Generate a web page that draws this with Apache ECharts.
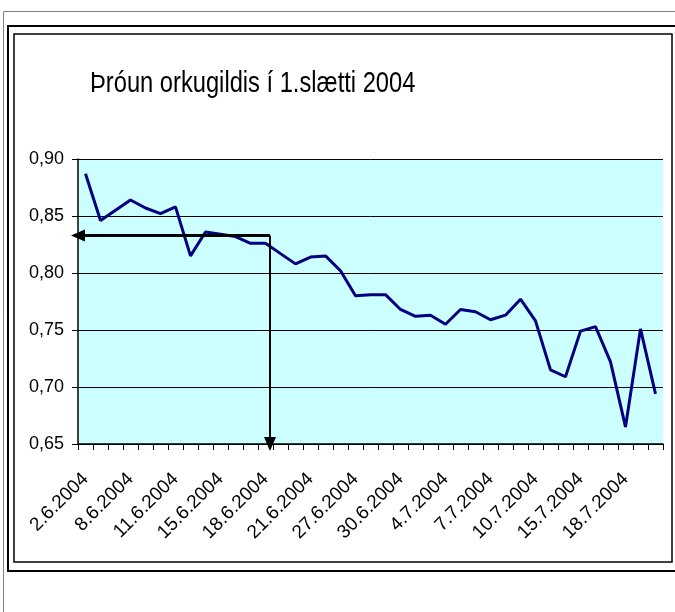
<!DOCTYPE html>
<html>
<head>
<meta charset="utf-8">
<script src="https://cdn.jsdelivr.net/npm/echarts@6/dist/echarts.min.js"></script>
<style>
html,body{margin:0;padding:0;background:#fff;}
#c{width:675px;height:612px;}
</style>
</head>
<body>
<div id="c"></div>
<script>
const titleText = 'Þróun orkugildis í 1.slætti 2004';
const categories = ['2.6.2004','4.6.2004','7.6.2004','8.6.2004','9.6.2004','10.6.2004','11.6.2004','13.6.2004','14.6.2004','15.6.2004','16.6.2004','17.6.2004','18.6.2004','19.6.2004','20.6.2004','21.6.2004','23.6.2004','25.6.2004','27.6.2004','28.6.2004','29.6.2004','30.6.2004','1.7.2004','2.7.2004','4.7.2004','5.7.2004','6.7.2004','7.7.2004','8.7.2004','9.7.2004','10.7.2004','12.7.2004','14.7.2004','15.7.2004','16.7.2004','17.7.2004','18.7.2004','19.7.2004','20.7.2004'];
const values = [0.887,0.846,0.855,0.864,0.857,0.852,0.858,0.815,0.836,0.834,0.832,0.826,0.826,0.817,0.808,0.814,0.815,0.802,0.780,0.781,0.781,0.768,0.762,0.763,0.755,0.768,0.766,0.759,0.763,0.777,0.758,0.715,0.709,0.749,0.753,0.722,0.665,0.751,0.694];
const yMin = 0.65, yMax = 0.90, yStep = 0.05;
// annotation arrows (in category-slot units and value units)
const arrowX = 12.8;
const arrowY = 0.833;
const arrowLeftEnd = 0;

const FONT = '"Liberation Sans", Arial, sans-serif';
const chart = echarts.init(document.getElementById('c'));
chart.setOption({
  animation: false,
  backgroundColor: '#fff',
  graphic: [
    {type:'rect', shape:{x:3.5,y:11.5,width:720,height:700}, style:{fill:'none',stroke:'#808080',lineWidth:1}, silent:true},
    {type:'rect', shape:{x:8,y:26,width:720,height:545}, style:{fill:'none',stroke:'#000',lineWidth:2}, silent:true},
    {type:'rect', shape:{x:14,y:34,width:658,height:528}, style:{fill:'none',stroke:'#000',lineWidth:1.5}, silent:true},
    {type:'text', x:90, y:84, scaleX:0.79, silent:true,
      style:{text:titleText, x:0, y:0, align:'left', verticalAlign:'middle',
        fill:'#000', font:'normal 30px "Liberation Sans", Arial, sans-serif'}}
  ],
  grid: {left:78, right:12, top:159, bottom:168, show:true, backgroundColor:'#ccffff', borderWidth:0},
  xAxis: [{
    type:'category', data:categories, boundaryGap:true,
    axisLine:{lineStyle:{color:'#000',width:1.5}},
    axisTick:{show:true, interval:0, length:6, lineStyle:{color:'#000'}},
    axisLabel:{interval:2, rotate:45, margin:32, color:'#000', fontFamily:FONT, fontSize:19},
    splitLine:{show:false}
  },{
    type:'value', min:0, max:categories.length, show:false
  }],
  yAxis: {
    type:'value', min:yMin, max:yMax, interval:yStep,
    axisLine:{show:true, lineStyle:{color:'#000',width:1.5}},
    axisTick:{show:true, length:6, lineStyle:{color:'#000'}},
    axisLabel:{color:'#000', fontFamily:FONT, fontSize:18, margin:14,
      formatter: v => v.toFixed(2).replace('.', ',')},
    splitLine:{show:true, lineStyle:{color:'#000', width:1}}
  },
  series: [{
    type:'line', data:values, xAxisIndex:0,
    symbol:'none', lineStyle:{color:'#000080', width:3}, itemStyle:{color:'#000080'}
  },{
    type:'line', xAxisIndex:1, data:[], symbol:'none', silent:true,
    markLine:{
      silent:true, symbol:['none','triangle'], symbolSize:[12,14],
      label:{show:false},
      lineStyle:{color:'#000', type:'solid'},
      data:[
        [{coord:[arrowX, arrowY], lineStyle:{width:3,color:'#000',type:'solid'}}, {coord:[arrowLeftEnd, arrowY]}],
        [{coord:[arrowX, arrowY], lineStyle:{width:2,color:'#000',type:'solid'}}, {coord:[arrowX, yMin]}]
      ]
    }
  }]
});
</script>
</body>
</html>
